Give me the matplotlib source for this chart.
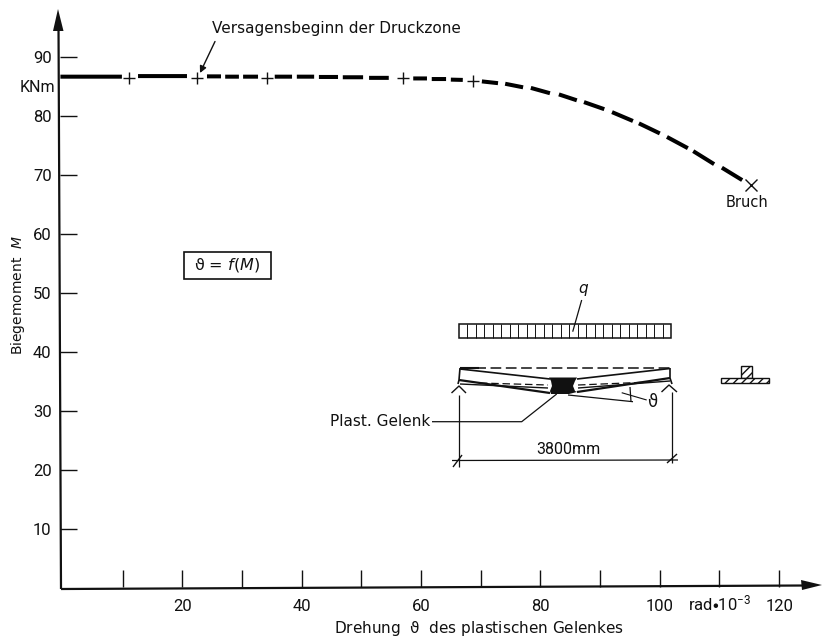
import numpy as np
import matplotlib
matplotlib.use("Agg")
import matplotlib.pyplot as plt
from matplotlib.lines import Line2D
from matplotlib.patches import Polygon, Rectangle, FancyArrowPatch
from matplotlib.transforms import Affine2D

# ---- data ----
x_ticks = [10, 20, 30, 40, 50, 60, 70, 80, 90, 100, 110, 120]
x_tick_labels = ['', '20', '', '40', '', '60', '', '80', '', '100', r'rad$\bullet$10$^{-3}$', '120']
y_ticks = [10, 20, 30, 40, 50, 60, 70, 80, 90]
y_tick_labels = ['10', '20', '30', '40', '50', '60', '70', '80', '90']

# curve pieces as drawn: NaN separates the dashes of the original line
curve_theta = [-0.4, 9.9, np.nan, 12.6, 20.8, np.nan,
               24.15, 26.5, np.nan, 27.2, 29.5, np.nan, 30.2, 32.7, np.nan,
               35.5, 38.4, np.nan, 39.2, 42.1, np.nan, 42.9, 46.1, np.nan,
               46.9, 50.3, np.nan, 51.3, 54.6, np.nan,
               58.7, 61.0, np.nan, 61.8, 64.2, np.nan, 65.0, 67.0, np.nan,
               70.2, 72.9, np.nan, 74.1, 77.1, np.nan, 78.4, 81.6, np.nan,
               83.1, 86.1, np.nan, 87.3, 90.7, np.nan, 92.0, 95.5, np.nan,
               96.5, 100.0, np.nan, 101.2, 104.7, np.nan, 105.6, 109.1, np.nan,
               110.4, 113.8]
curve_moment = [86.6, 86.6, np.nan, 86.7, 86.7, np.nan,
                86.65, 86.65, np.nan, 86.6, 86.6, np.nan, 86.6, 86.6, np.nan,
                86.6, 86.6, np.nan, 86.6, 86.6, np.nan, 86.55, 86.55, np.nan,
                86.5, 86.5, np.nan, 86.4, 86.4, np.nan,
                86.3, 86.3, np.nan, 86.2, 86.2, np.nan, 86.1, 86.05, np.nan,
                85.8, 85.5, np.nan, 85.4, 84.8, np.nan, 84.7, 83.8, np.nan,
                83.6, 82.6, np.nan, 82.3, 81.1, np.nan, 80.6, 79.1, np.nan,
                78.7, 77.0, np.nan, 76.4, 74.5, np.nan, 74.0, 71.8, np.nan,
                71.2, 69.1]
measured_theta = [11.1, 22.5, 34.2, 57.0, 68.7]
measured_moment = [86.4, 86.4, 86.4, 86.3, 85.9]
failure_theta = [115.3]
failure_moment = [68.3]

# ---- figure ----
W, H = 832, 639
plt.rcParams['font.family'] = 'DejaVu Sans'
plt.rcParams['mathtext.default'] = 'regular'
fig = plt.figure(figsize=(W / 100, H / 100), dpi=100)
ax = fig.add_axes([60 / W, (H - 587) / H, (822 - 60) / W, (587 - 9) / H])
ax.set_xlim(-0.47, 127.17)
ax.set_ylim(0.25, 98.05)
for s in ax.spines.values():
    s.set_visible(False)
ax.patch.set_alpha(0)

ink = '#111111'
TICKFONT = dict(family='Roboto', size=12, color=ink)
ax.set_xticks(x_ticks)
ax.set_xticklabels(x_tick_labels, **TICKFONT)
ax.set_yticks(y_ticks)
ax.set_yticklabels(y_tick_labels, **TICKFONT)
ax.tick_params(axis='x', direction='in', length=12, width=1.0, pad=17, color=ink)
ax.tick_params(axis='y', direction='in', length=12.5, width=1.0, pad=6, color=ink)
for lab in ax.get_xticklabels():
    lab.set_verticalalignment('baseline')

ax.plot(curve_theta, curve_moment, color='black', lw=2.9, solid_capstyle='butt')
ax.plot(measured_theta, measured_moment, ls='none', marker='+', ms=9, mew=1.0, color=ink)
ax.plot(failure_theta, failure_moment, ls='none', marker='x', ms=8, mew=1.0, color=ink)

# pixel-space overlay for the axis lines and the sketch
px = Affine2D().scale(1 / W, -1 / H).translate(0, 1) + fig.transFigure


def line(xs, ys, lw=1.0, **kw):
    fig.add_artist(Line2D(xs, ys, transform=px, color=kw.pop('color', ink), lw=lw,
                          solid_capstyle='butt', **kw))


def poly(pts, fc=ink, **kw):
    fig.add_artist(Polygon(pts, closed=True, transform=px, fc=fc, ec=kw.pop('ec', 'none'), **kw))


def rect(x0, y0, x1, y1, **kw):
    fig.add_artist(Rectangle((x0, y0), x1 - x0, y1 - y0, transform=px, **kw))


def label(x, y, s, **kw):
    kw.setdefault('size', 11)
    kw.setdefault('ha', 'center')
    kw.setdefault('va', 'center')
    kw.setdefault('color', ink)
    fig.text(x / W, 1 - y / H, s, **kw)


# axes (slightly skewed like the scanned drawing)
line([61, 58.5], [589, 25], lw=1.6)
poly([(58, 9), (63.5, 31), (53, 31)])
line([61, 805], [589, 585.5], lw=1.6)
poly([(822, 585), (801, 580), (802, 590)])

# axis texts
label(18, 295, 'Biegemoment  $\\mathit{M}$', rotation=90, size=10)
label(479, 628, 'Drehung  $\\vartheta$  des plastischen Gelenkes', size=11)
label(37, 88, 'KNm', family='Roboto', size=11.5)
label(747, 203, 'Bruch', size=10.5)
label(212, 28, 'Versagensbeginn der Druckzone', ha='left', size=11)
fig.add_artist(FancyArrowPatch(
    (215, 41.5), (200, 73), transform=px, arrowstyle='-|>', mutation_scale=10, lw=1.0,
    color=ink, shrinkA=0, shrinkB=0))

# formula box
rect(184, 252, 271, 279, fc='white', ec=ink, lw=1.2)
label(227.5, 265.5, '$\\vartheta$ = $\\mathit{f}$($\\mathit{M}$)', size=11.5)

# load block
rect(459, 324.3, 671, 337.7, fc='white', ec=ink, lw=1.1)
for i in range(1, 25):
    xv = 459 + i * 212 / 25
    line([xv, xv], [324.3, 337.7], lw=0.7)
label(583, 289, 'q', style='italic', size=11)
line([581.7, 572.7], [300, 331.7], lw=0.9)

# beam
line([460, 670], [367.7, 367.7], lw=1.1, ls=(0, (7, 3)))
line([460, 479], [367.5, 367.5], lw=1.5)
line([460, 459, 458], [368, 380, 384], lw=1.2)
line([670, 670, 672], [368, 378, 384], lw=1.2)
line([460, 550], [369, 379], lw=1.2)
line([670, 577], [368.5, 379], lw=1.2)
line([459, 550], [380, 393], lw=1.6)
line([670, 577], [378, 392], lw=1.6)
line([460, 548], [384, 388], lw=1.0)
line([670, 578], [381, 388], lw=1.0)
line([480, 548], [383, 385], lw=0.9, ls=(0, (6, 3)))
line([578, 650], [385, 382], lw=0.9, ls=(0, (6, 3)))
poly([(549, 377.5), (577, 377.5), (575, 381), (573, 386), (575, 391), (577, 392),
      (569, 394), (551, 394), (550, 391), (552, 386), (551, 381)])

# supports
line([451.5, 459, 466], [393, 386, 393], lw=1.0)
line([661.5, 669, 677], [392, 385, 392], lw=1.0)

# dimension line
line([458.5, 458.5], [395, 467], lw=0.9)
line([672, 672], [392, 463], lw=0.9)
line([452, 678], [460.5, 460], lw=0.9)
line([453, 462], [467, 455], lw=1.0)
line([667, 677], [463, 454], lw=1.0)
label(568, 450, '3800mm', family='Roboto', size=11.5)

# plastic hinge leader
label(430, 421.5, 'Plast. Gelenk', ha='right', size=11)
line([432, 521.7, 556.7], [421.7, 421.7, 394], lw=0.9)

# rotation angle
line([568, 633], [395, 401.7], lw=0.9)
line([630, 631], [387, 401.7], lw=0.9)
line([621.7, 646.7], [392.7, 400], lw=0.8)
label(653, 402, '$\\vartheta$', size=12)

# cross-section
rect(741, 365.7, 752.3, 378, fc='white', ec=ink, lw=1.0, hatch='////')
rect(721, 378, 769.3, 383.3, fc='white', ec=ink, lw=1.0, hatch='////')

fig.savefig('out.png', dpi=100)
